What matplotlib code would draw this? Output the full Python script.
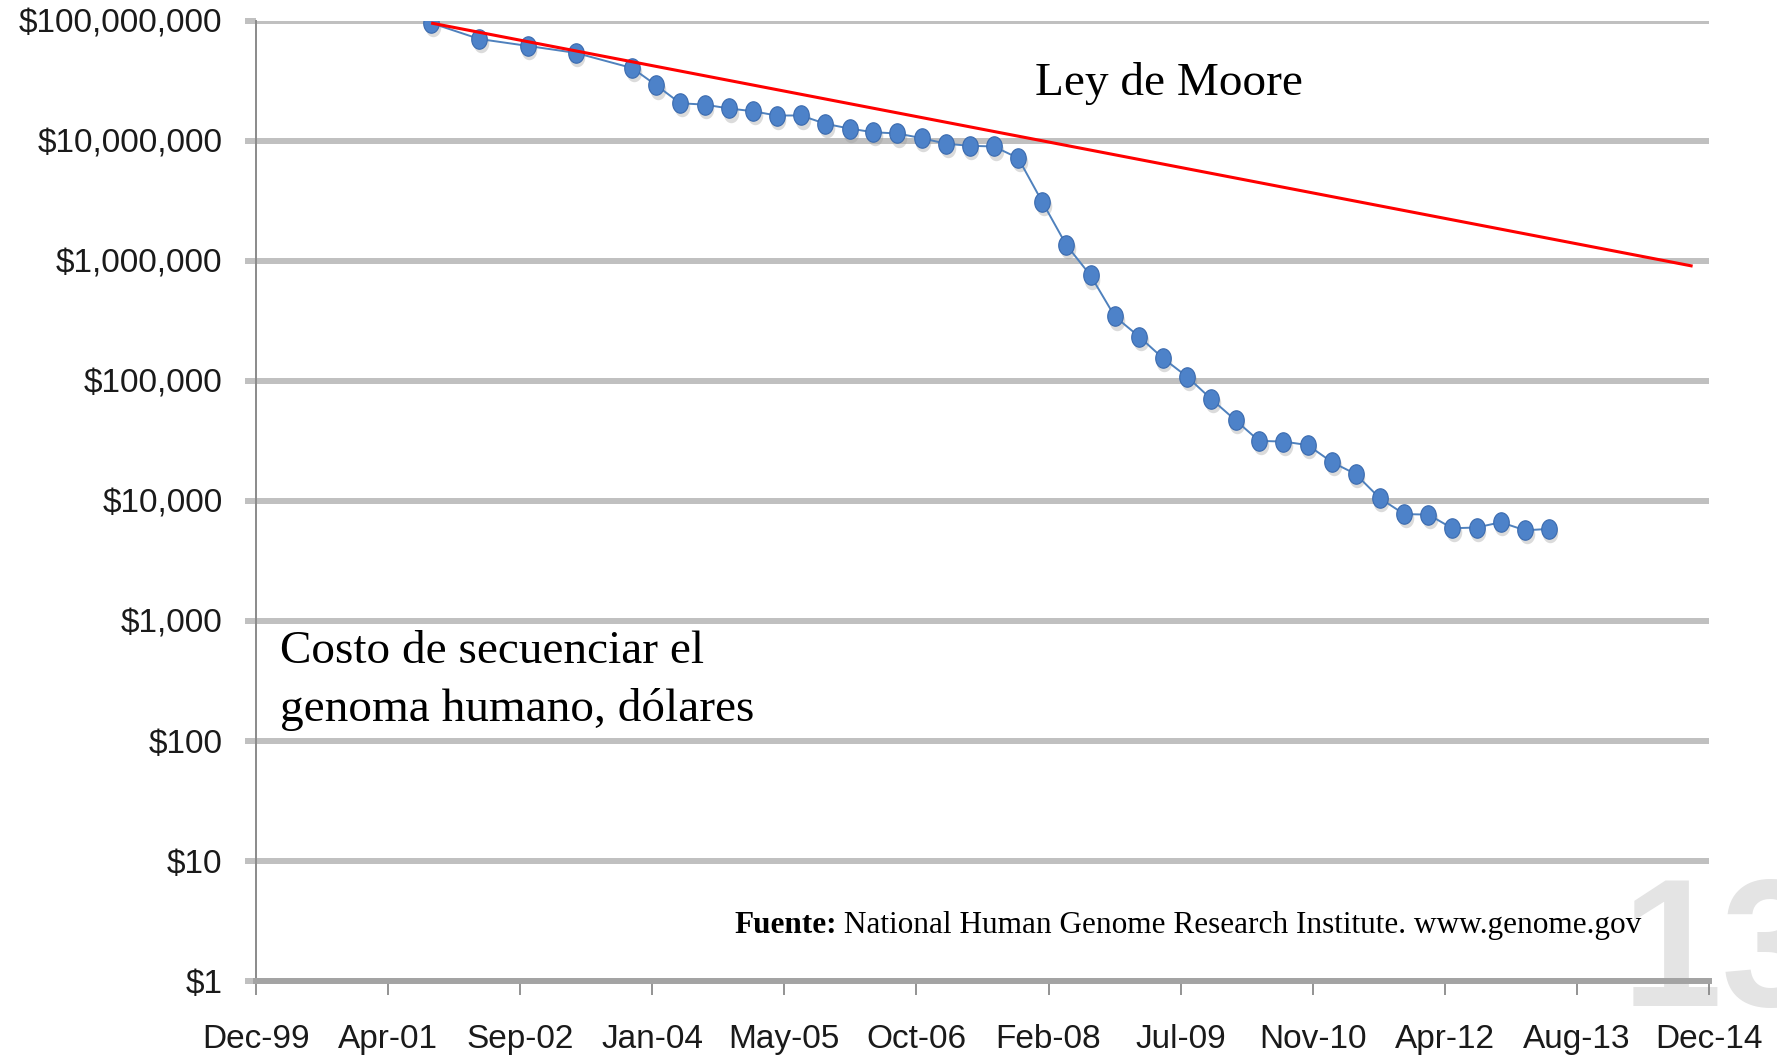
import numpy as np
import matplotlib
matplotlib.use("Agg")
import matplotlib.pyplot as plt
import matplotlib.dates as mdates
import matplotlib.font_manager as fm
import matplotlib.transforms as mtransforms
from matplotlib.path import Path
from datetime import datetime, timedelta

# ---------------- data ----------------
dates = ['2001-09-30', '2002-03-31', '2002-09-30', '2003-03-31', '2003-10-31',
         '2004-01-31', '2004-04-30', '2004-07-31', '2004-10-31',
         '2005-01-31', '2005-04-30', '2005-07-31', '2005-10-31',
         '2006-01-31', '2006-04-30', '2006-07-31', '2006-10-31',
         '2007-01-31', '2007-04-30', '2007-07-31', '2007-10-31',
         '2008-01-31', '2008-04-30', '2008-07-31', '2008-10-31',
         '2009-01-31', '2009-04-30', '2009-07-31', '2009-10-31',
         '2010-01-31', '2010-04-30', '2010-07-31', '2010-10-31',
         '2011-01-31', '2011-04-30', '2011-07-31', '2011-10-31',
         '2012-01-31', '2012-04-30', '2012-07-31', '2012-10-31',
         '2013-01-31', '2013-04-30']
costs = [95263072, 70175437, 61448422, 53751684, 40157554,
         28780376, 20442576, 19934346, 18519312,
         17534970, 16159699, 16180224, 13801124,
         12585659, 11732535, 11455315, 10474556,
         9408739, 9047003, 8927342, 7147571,
         3063820, 1352982, 752080, 342502,
         232735, 154714, 108065, 70333,
         46774, 31512, 31125, 29092,
         20963, 16712, 10497, 7743,
         7666, 5901, 5985, 6618,
         5671, 5826]

moore_dates = ['2001-09-30', '2014-10-27']
moore_values = [95263072, 900000]

y_ticks = [1, 10, 100, 1000, 10000, 100000, 1000000, 10000000, 100000000]
y_tick_labels = ['$1', '$10', '$100', '$1,000', '$10,000', '$100,000',
                 '$1,000,000', '$10,000,000', '$100,000,000']
x_tick_labels = ['Dec-99', 'Apr-01', 'Sep-02', 'Jan-04', 'May-05', 'Oct-06',
                 'Feb-08', 'Jul-09', 'Nov-10', 'Apr-12', 'Aug-13', 'Dec-14']

title_moore = 'Ley de Moore'
label_lines = ['Costo de secuenciar el', 'genoma humano, dólares']
source_bold = 'Fuente:'
source_rest = ' National Human Genome Research Institute. www.genome.gov'
watermark = '13'

# ---------------- fonts ----------------
available = {f.name for f in fm.fontManager.ttflist}
def pick(cands, default='DejaVu Sans'):
    for c in cands:
        if c in available:
            return c
    return default

serif = pick(['Liberation Serif', 'DejaVu Serif'], 'serif')
sans = pick(['Liberation Sans', 'DejaVu Sans'])
if 'Liberation Sans Narrow' in available:
    wm_font, wm_size = 'Liberation Sans Narrow', 140
else:
    wm_font, wm_size = sans, 130

# ---------------- figure ----------------
W, H = 1777, 1061
fig = plt.figure(figsize=(W / 100, H / 100), dpi=100)
fig.patch.set_facecolor('white')

# watermark behind everything
fig.text(1622 / W, 1 - 874 / H, watermark, fontsize=wm_size, fontfamily=wm_font,
         fontweight='bold', color='#e4e4e4', ha='left', va='top', zorder=0)

left, right = 256 / W, 1709 / W
bottom, top = 1 - 981 / H, 1 - 20.5 / H
ax = fig.add_axes([left, bottom, right - left, top - bottom])
ax.patch.set_alpha(0)
ax.set_zorder(1)

x = [datetime.strptime(d, '%Y-%m-%d') for d in dates]
xm = [datetime.strptime(d, '%Y-%m-%d') for d in moore_dates]

start = datetime(1999, 12, 7)
step = 500
xticks = [start + timedelta(days=step * i) for i in range(len(x_tick_labels))]

ax.set_yscale('log')
ax.set_ylim(y_ticks[0], y_ticks[-1])
ax.set_xlim(xticks[0], xticks[-1])

ax.set_yticks(y_ticks)
ax.set_yticklabels(y_tick_labels)
ax.yaxis.set_minor_locator(matplotlib.ticker.NullLocator())
ax.set_xticks(mdates.date2num(xticks))
ax.set_xticklabels(x_tick_labels)

for lab in ax.get_yticklabels() + ax.get_xticklabels():
    lab.set_fontfamily(sans)
    lab.set_fontsize(24)
    lab.set_color('#1a1a1a')

# nudge y labels slightly down as in the reference
ydown = mtransforms.ScaledTranslation(0, -3 / 72, fig.dpi_scale_trans)
for lab in ax.get_yticklabels():
    lab.set_transform(lab.get_transform() + ydown)

ax.grid(axis='y', color='#c0c0c0', linewidth=4.3)
ax.set_axisbelow(True)
ax.tick_params(axis='y', direction='out', length=8, width=4.3,
               color='#c0c0c0', pad=16)
ax.tick_params(axis='x', direction='out', length=10, width=1.3,
               color='#8a8a8a', pad=21)

for s in ['top', 'right']:
    ax.spines[s].set_visible(False)
ax.spines['left'].set_color('#8a8a8a')
ax.spines['left'].set_linewidth(1.4)
ax.spines['bottom'].set_color('#a3a3a3')
ax.spines['bottom'].set_linewidth(4.3)

# ellipse marker
t = np.linspace(0, 2 * np.pi, 48)
ell = Path(np.column_stack([0.8 * np.cos(t), np.sin(t)]), closed=True)

# soft shadow layer
shadow_tr = mtransforms.offset_copy(ax.transData, fig=fig, x=1.2, y=-3.0,
                                    units='points')
ax.plot(x, costs, linestyle='none', marker=ell, markersize=14,
        markerfacecolor='#9a9a9a', markeredgecolor='none', alpha=0.35,
        transform=shadow_tr, zorder=2)

ax.plot(x, costs, color='#4f81bd', linewidth=1.4, marker=ell, markersize=14,
        markerfacecolor='#4d82c9', markeredgecolor='#3a6aae',
        markeredgewidth=0.8, zorder=3)

ax.plot(xm, moore_values, color='#ff0000', linewidth=2.2, zorder=4,
        solid_capstyle='butt')

# ---------------- texts ----------------
fig.text(1035 / W, 1 - 95 / H, title_moore, fontfamily=serif, fontsize=34,
         color='black', ha='left', va='baseline', zorder=5)
fig.text(280 / W, 1 - 663 / H, label_lines[0], fontfamily=serif, fontsize=34,
         color='black', ha='left', va='baseline', zorder=5)
fig.text(280 / W, 1 - 721 / H, label_lines[1], fontfamily=serif, fontsize=34,
         color='black', ha='left', va='baseline', zorder=5)

t1 = fig.text(734 / W, 1 - 940 / H, source_bold, fontfamily=serif,
              fontsize=22.5, fontweight='bold', color='black', ha='left',
              va='bottom', zorder=5)
ann = ax.annotate(source_rest, xy=(1, 0), xycoords=t1, fontfamily=serif,
                  fontsize=22.5, color='black', ha='left', va='bottom',
                  annotation_clip=False, zorder=5)

fig.savefig('out.png', dpi=100, facecolor='white')
